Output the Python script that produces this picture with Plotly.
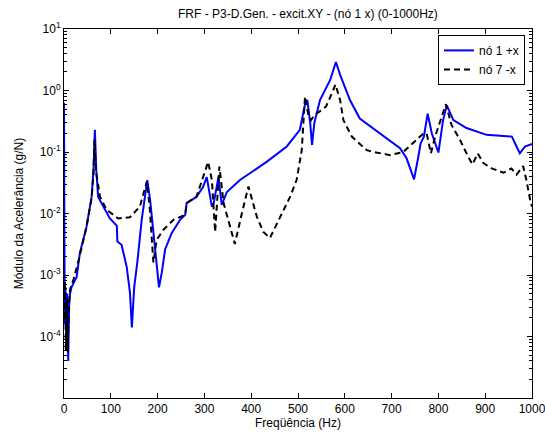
import plotly.graph_objects as go

# ---- data ----
freq_no1 = [0, 1.5, 3, 5, 7, 9, 11, 13, 16, 27, 34, 48, 59, 63, 66, 69, 73, 84, 98, 113, 114,
            123, 134, 141, 145, 150, 157, 166, 173, 178, 184, 191, 198, 203, 209, 216, 230, 248,
            259, 262, 283, 297, 305, 310, 316, 320, 330, 337, 348, 376, 433, 476, 504, 515, 520,
            526, 530, 535, 547, 569, 581, 590, 611, 632, 675, 718, 732, 748, 757, 762, 769, 777,
            786, 800, 810, 818, 832, 860, 903, 957, 967, 974, 985, 1000]
acc_no1 = [0.63, 1.6e-4, 6.3e-4, 8e-5, 5e-4, 4e-5, 3.2e-4, 5e-4, 6.3e-4, 9.3e-4, 2.3e-3, 6e-3,
           0.0186, 0.051, 0.23, 0.05, 0.0186, 0.0129, 0.0083, 0.0063, 0.0035, 0.0031, 0.00135,
           5.1e-4, 1.4e-4, 6.3e-4, 0.0017, 0.0079, 0.0186, 0.035, 0.0166, 0.0048, 0.0017, 6.3e-4,
           0.0011, 0.0026, 0.0048, 0.0079, 0.0095, 0.0148, 0.0186, 0.027, 0.039, 0.025, 0.0129,
           0.0148, 0.039, 0.0138, 0.0224, 0.035, 0.069, 0.123, 0.23, 0.6, 0.7, 0.3, 0.13, 0.3,
           0.7, 1.5, 2.9, 1.8, 0.7, 0.35, 0.2, 0.115, 0.079, 0.036, 0.083, 0.138, 0.178, 0.42,
           0.2, 0.098, 0.33, 0.57, 0.33, 0.245, 0.19, 0.178, 0.123, 0.095, 0.123, 0.135]

freq_no7 = [0, 2, 4, 6, 8, 10, 13, 20, 31, 48, 59, 63, 65, 68, 77, 91, 116, 141, 162, 177, 183,
            191, 198, 212, 234, 259, 262, 283, 308, 316, 323, 332, 341, 355, 365, 380, 394, 412,
            426, 440, 462, 483, 497, 508, 515, 522, 528, 535, 545, 560, 575, 580, 590, 597, 615,
            632, 647, 661, 675, 697, 725, 746, 768, 775, 784, 793, 816, 828, 846, 864, 873, 884,
            896, 914, 939, 956, 967, 981, 988, 996, 1000]
acc_no7 = [2e-4, 8e-4, 6e-5, 4e-4, 5.5e-5, 3e-4, 5.8e-4, 8.3e-4, 1.7e-3, 6e-3, 0.018, 0.045,
           0.16, 0.05, 0.0186, 0.0115, 0.0083, 0.0087, 0.0129, 0.033, 0.0129, 0.0016, 0.0037,
           0.0054, 0.0079, 0.0095, 0.0148, 0.0186, 0.069, 0.035, 0.005, 0.058, 0.0148, 0.0062,
           0.0032, 0.01, 0.0275, 0.0089, 0.005, 0.004, 0.0089, 0.0186, 0.035, 0.107, 0.8, 0.4,
           0.33, 0.4, 0.45, 0.55, 1.0, 1.25, 0.7, 0.33, 0.178, 0.138, 0.107, 0.1, 0.095, 0.089,
           0.1, 0.138, 0.2, 0.2, 0.095, 0.178, 0.6, 0.275, 0.158, 0.083, 0.063, 0.095, 0.066,
           0.054, 0.046, 0.054, 0.043, 0.059, 0.035, 0.0166, 0.0129]

x_ticks = [0, 100, 200, 300, 400, 500, 600, 700, 800, 900, 1000]
y_ticks = [1e-4, 1e-3, 1e-2, 1e-1, 1e0, 1e1]
y_tick_text = ["10<sup>-4</sup>", "10<sup>-3</sup>", "10<sup>-2</sup>",
               "10<sup>-1</sup>", "10<sup>0</sup>", "10<sup>1</sup>"]
y_minor = [m * 10.0 ** k for k in range(-5, 1) for m in range(2, 10)]

FONT = "Liberation Sans, Arial, sans-serif"

fig = go.Figure()
fig.add_trace(go.Scatter(x=freq_no1, y=acc_no1, mode="lines", name="nó 1 +x",
                         line=dict(color="#0000FF", width=2)))
fig.add_trace(go.Scatter(x=freq_no7, y=acc_no7, mode="lines", name="nó 7 -x",
                         line=dict(color="#000000", width=2, dash="6px,4px")))

fig.update_layout(
    width=545, height=436,
    margin=dict(l=64, r=13, t=29, b=38, autoexpand=False),
    paper_bgcolor="white", plot_bgcolor="white",
    font=dict(family=FONT, size=12, color="black"),
    title=dict(text="FRF - P3-D.Gen. - excit.XY - (nó 1 x) (0-1000Hz)",
               x=0.565, xanchor="center", y=0.968, yanchor="middle",
               font=dict(family=FONT, size=12, color="black")),
    showlegend=True,
    legend=dict(x=0.985, xanchor="right", y=0.984, yanchor="top",
                bgcolor="white", bordercolor="black", borderwidth=1,
                font=dict(family=FONT, size=12, color="black"),
                tracegroupgap=0),
)

fig.update_xaxes(
    range=[0, 1000], tickvals=x_ticks, ticks="inside", ticklen=5, tickcolor="black",
    ticklabeloverflow="allow", automargin=False,
    showline=True, linecolor="black", linewidth=1, mirror="ticks", showgrid=False,
    zeroline=False, title=dict(text="Freqüência (Hz)", standoff=3,
                               font=dict(family=FONT, size=12)),
    tickfont=dict(family=FONT, size=12),
)
fig.update_yaxes(
    type="log", range=[-5, 1], tickvals=y_ticks, ticktext=y_tick_text,
    ticks="inside", ticklen=5, tickcolor="black", automargin=False,
    minor=dict(tickvals=y_minor, ticks="inside", ticklen=3, tickcolor="black", showgrid=False),
    showline=True, linecolor="black", linewidth=1, mirror="ticks", showgrid=False,
    zeroline=False, title=dict(text="Módulo da Acelerância (g/N)", standoff=13,
                               font=dict(family=FONT, size=12)),
    tickfont=dict(family=FONT, size=12),
)

fig.write_html(
    "out.html",
    config={"displayModeBar": False},
    post_script="document.body.style.margin='0';document.body.style.overflow='hidden';",
)
